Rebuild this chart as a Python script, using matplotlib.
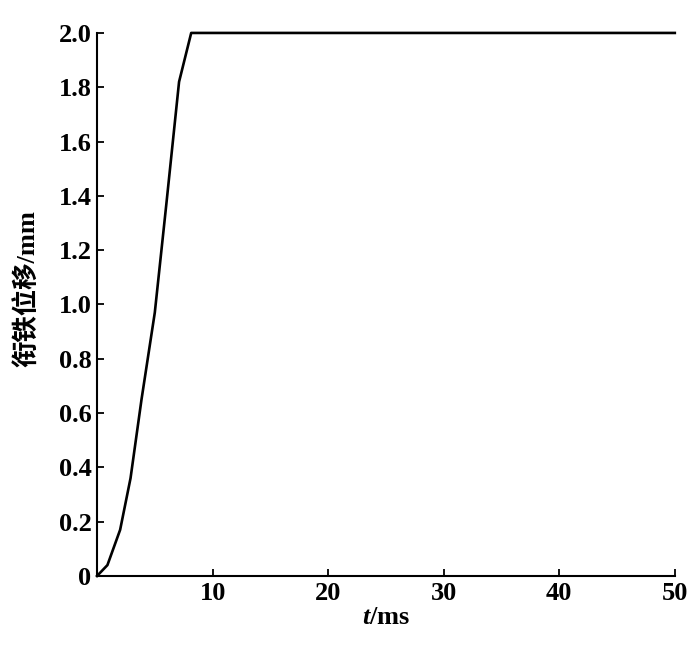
import matplotlib
matplotlib.use("Agg")
import matplotlib.pyplot as plt
from matplotlib.ticker import FuncFormatter

# armature displacement vs time
t_ms = [0, 0.9, 2.0, 2.9, 3.85, 5.0, 6.0, 7.1, 8.15, 20, 30, 40, 50]
disp_mm = [0, 0.04, 0.17, 0.36, 0.65, 0.97, 1.37, 1.82, 2.0, 2.0, 2.0, 2.0, 2.0]

x_ticks = [10, 20, 30, 40, 50]
y_ticks = [0, 0.2, 0.4, 0.6, 0.8, 1.0, 1.2, 1.4, 1.6, 1.8, 2.0]

FONT = ["Liberation Serif", "Noto Sans CJK SC"]


def main() -> None:
    plt.rcParams["font.family"] = FONT
    plt.rcParams["mathtext.fontset"] = "custom"
    plt.rcParams["mathtext.it"] = "Liberation Serif:italic:bold"
    fig = plt.figure(figsize=(7, 6.46), dpi=100)
    ax = fig.add_axes([0.1386, 0.1084, 0.8254, 0.8406])

    ax.plot(t_ms, disp_mm, color="black", linewidth=1.9, clip_on=False)

    ax.set_xlim(0, 50)
    ax.set_ylim(0, 2.0)
    ax.set_xticks(x_ticks)
    ax.set_yticks(y_ticks)
    ax.yaxis.set_major_formatter(
        FuncFormatter(lambda v, p: "0" if v == 0 else f"{v:.1f}")
    )

    for side in ["top", "right"]:
        ax.spines[side].set_visible(False)
    for side in ["left", "bottom"]:
        ax.spines[side].set_linewidth(1.5)

    ax.tick_params(direction="in", length=5, width=1.3, labelsize=19, pad=4)
    for lbl in ax.get_xticklabels() + ax.get_yticklabels():
        lbl.set_fontweight("bold")

    ax.set_xlabel(r"$t$/ms", fontsize=19, fontweight="bold", labelpad=1)
    ax.set_ylabel("衔铁位移/mm", fontsize=19, fontweight="bold")
    ax.yaxis.set_label_coords(-0.098, 0.53)

    fig.savefig("out.png", dpi=100)


if __name__ == "__main__":
    main()
